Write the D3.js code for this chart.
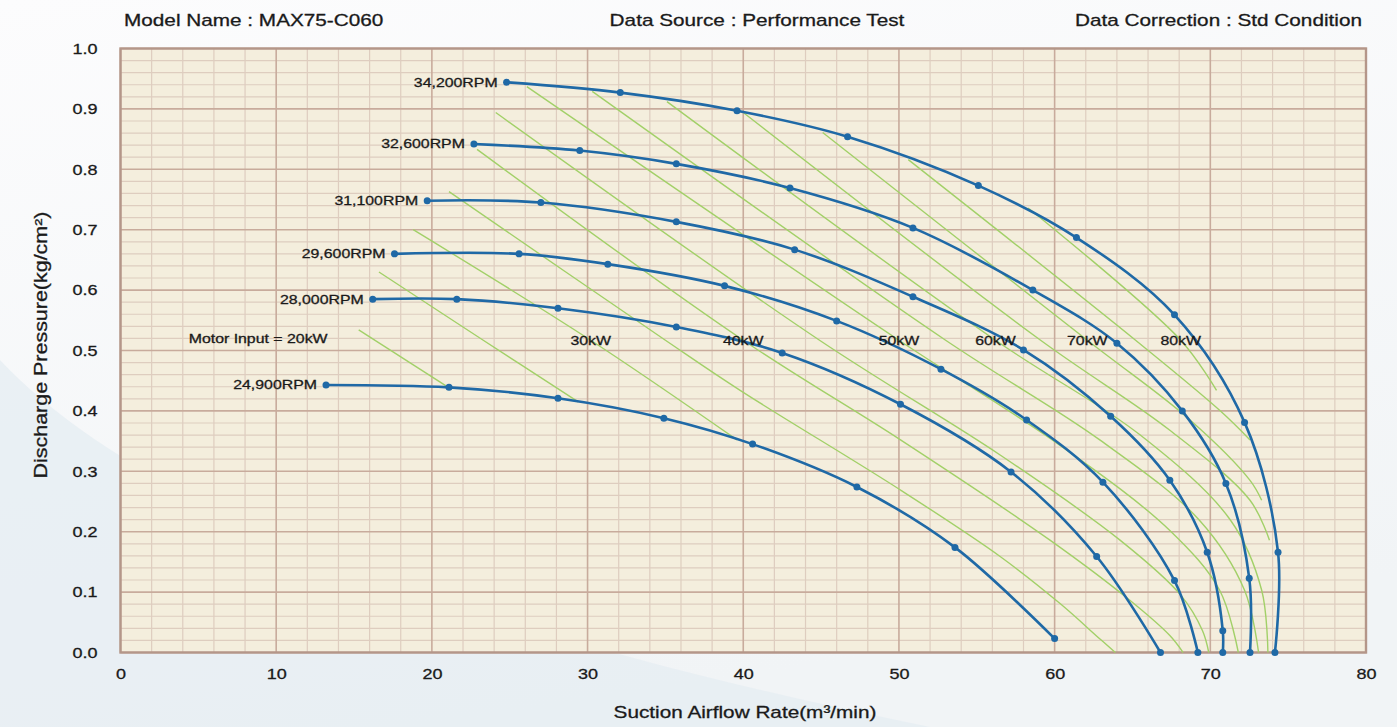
<!DOCTYPE html>
<html>
<head>
<meta charset="utf-8">
<script src="https://cdn.jsdelivr.net/npm/d3@7"></script>
<style>
    html, body { margin: 0; padding: 0; background: #f8f9fa; }
    svg { display: block; }
    text { font-family: "Liberation Sans", Arial, sans-serif; fill: #1a1a1a; stroke: #1a1a1a; stroke-width: 0.3px; }
</style>
</head>
<body>
<svg id="chart" width="1397" height="727"></svg>
<script>
// header texts
const headerTexts = ["Model Name : MAX75-C060", "Data Source : Performance Test", "Data Correction : Std Condition"];
const xTitle = "Suction Airflow Rate(m³/min)";
const yTitle = "Discharge Pressure(kg/cm²)";

// axis ticks
const xTicks = [0, 10, 20, 30, 40, 50, 60, 70, 80];
const yTicks = [0, 0.1, 0.2, 0.3, 0.4, 0.5, 0.6, 0.7, 0.8, 0.9, 1.0];

// fan curves (flow m3/min, pressure kg/cm2), lowest speed first
const rpmLabels = ["24,900RPM", "28,000RPM", "29,600RPM", "31,100RPM", "32,600RPM", "34,200RPM"];
const flow24900 = [13.2, 21.1, 28.1, 34.9, 40.6, 47.3, 53.6, 60.0];
const press24900 = [0.443, 0.439, 0.421, 0.388, 0.345, 0.274, 0.174, 0.023];
const flow28000 = [16.2, 21.6, 28.1, 35.7, 42.5, 50.1, 57.2, 62.7, 66.8];
const press28000 = [0.585, 0.585, 0.570, 0.539, 0.496, 0.411, 0.299, 0.159, 0.0];
const flow29600 = [17.6, 25.6, 31.3, 38.8, 46.0, 52.7, 58.2, 63.1, 67.7, 69.2];
const press29600 = [0.660, 0.660, 0.643, 0.607, 0.549, 0.469, 0.385, 0.282, 0.119, 0.0];
const flow31100 = [19.7, 27.0, 35.7, 43.3, 50.9, 58.0, 63.6, 67.4, 69.8, 70.8, 70.8];
const press31100 = [0.748, 0.745, 0.713, 0.667, 0.589, 0.501, 0.391, 0.285, 0.166, 0.036, 0.0];
const flow32600 = [22.7, 29.5, 35.7, 43.0, 50.9, 58.6, 64.0, 68.2, 71.0, 72.5, 72.55];
const press32600 = [0.842, 0.831, 0.809, 0.769, 0.703, 0.600, 0.512, 0.400, 0.280, 0.123, 0.0];
const flow34200 = [24.8, 32.1, 39.6, 46.7, 55.1, 61.4, 67.7, 72.2, 74.35, 74.15];
const press34200 = [0.944, 0.927, 0.897, 0.854, 0.773, 0.687, 0.559, 0.381, 0.166, 0.0];

const curveFlows = [flow24900, flow28000, flow29600, flow31100, flow32600, flow34200];
const curvePress = [press24900, press28000, press29600, press31100, press32600, press34200];

// motor input lines (kW)
const powerLevels = [20, 25, 30, 35, 40, 45, 50, 55, 60, 65, 70, 75, 80];
const powerFlows = [
    [15.3, 21.06],
    [16.6, 23.3, 29.4],
    [18.8, 30.2, 39.6],
    [21.1, 35.0, 39.8, 50.1, 56.5, 60.35, 62.8, 63.9],
    [22.9, 40.0, 50.1, 59.7, 64.85, 67.4, 68.25],
    [24.1, 44.9, 56.5, 64.2, 68.1, 69.5, 69.9],
    [26.1, 50.0, 60.35, 67.4, 70.6, 71.8],
    [30.3, 53.0, 62.9, 69.3, 72.2, 73.1],
    [35.1, 56.2, 65.5, 71.3, 73.3, 73.7],
    [40.0, 59.1, 67.4, 72.55, 73.8],
    [45.1, 62.1, 68.7, 72.55, 73.3],
    [50.6, 65.2, 70.6, 72.55],
    [58.3, 68.1, 70.4]
];
const powerPress = [
    [0.534, 0.439],
    [0.630, 0.517, 0.415],
    [0.700, 0.517, 0.352],
    [0.763, 0.517, 0.434, 0.269, 0.159, 0.081, 0.025, 0.0],
    [0.833, 0.517, 0.352, 0.186, 0.086, 0.028, 0.0],
    [0.894, 0.517, 0.327, 0.186, 0.095, 0.036, 0.0],
    [0.937, 0.517, 0.343, 0.202, 0.103, 0.0],
    [0.929, 0.517, 0.352, 0.219, 0.103, 0.0],
    [0.912, 0.517, 0.360, 0.219, 0.103, 0.0],
    [0.894, 0.517, 0.368, 0.252, 0.186],
    [0.861, 0.517, 0.385, 0.285, 0.252],
    [0.816, 0.517, 0.401, 0.352],
    [0.736, 0.517, 0.434]
];
const powerLabels = ["Motor Input = 20kW", "30kW", "40kW", "50kW", "60kW", "70kW", "80kW"];
const powerLabelFlow = [13.3, 30.2, 40.0, 50.0, 56.2, 62.1, 68.1];
const powerLabelPress = [0.52, 0.517, 0.517, 0.517, 0.517, 0.517, 0.517];

const svg = d3.select("#chart");
const W = 1397, H = 727;

const x = d3.scaleLinear().domain([0, 80]).range([120.5, 1366]);
const y = d3.scaleLinear().domain([0, 1]).range([652.5, 48.5]);

// the source picture is a bit wider than normal type, so stretch text
const stretch = (sel, k) => {
    sel.each(function () {
        const w = this.getComputedTextLength();
        d3.select(this).attr("textLength", w * k).attr("lengthAdjust", "spacingAndGlyphs");
    });
};

// page background with a soft swoosh bottom-left
const defs = svg.append("defs");
const bg = defs.append("linearGradient").attr("id", "bg").attr("x1", 0).attr("y1", 0).attr("x2", 0.3).attr("y2", 1);
bg.append("stop").attr("offset", "0%").attr("stop-color", "#fcfcfd");
bg.append("stop").attr("offset", "100%").attr("stop-color", "#f1f4f6");
svg.append("rect").attr("width", W).attr("height", H).attr("fill", "url(#bg)");
svg.append("path")
    .attr("d", "M0,360 C150,520 500,640 930,727 L0,727 Z")
    .attr("fill", "#e6edf2").attr("opacity", 0.8);

// plot area
svg.append("rect")
    .attr("x", x(0)).attr("y", y(1))
    .attr("width", x(80) - x(0)).attr("height", y(0) - y(1))
    .attr("fill", "#f4eedd");

const grid = svg.append("g");
const xGrid = d3.range(0, 81, 2);
const yGrid = d3.range(0, 51, 1).map(d => d / 50);

grid.selectAll(".vminor")
    .data(xGrid.filter(d => d % 10 != 0))
    .enter().append("line")
    .attr("x1", d => x(d)).attr("x2", d => x(d))
    .attr("y1", y(1)).attr("y2", y(0))
    .style("stroke", "#decdbf").style("stroke-width", 1.2);
grid.selectAll(".hminor")
    .data(yGrid.filter((d, i) => i % 5 != 0))
    .enter().append("line")
    .attr("x1", x(0)).attr("x2", x(80))
    .attr("y1", d => y(d)).attr("y2", d => y(d))
    .style("stroke", "#decdbf").style("stroke-width", 1.2);
grid.selectAll(".vmajor")
    .data(xTicks)
    .enter().append("line")
    .attr("x1", d => x(d)).attr("x2", d => x(d))
    .attr("y1", y(1)).attr("y2", y(0))
    .style("stroke", "#c8ab9c").style("stroke-width", 1.6);
grid.selectAll(".hmajor")
    .data(yTicks)
    .enter().append("line")
    .attr("x1", x(0)).attr("x2", x(80))
    .attr("y1", d => y(d)).attr("y2", d => y(d))
    .style("stroke", "#c8ab9c").style("stroke-width", 1.6);

svg.append("rect")
    .attr("x", x(0)).attr("y", y(1))
    .attr("width", x(80) - x(0)).attr("height", y(0) - y(1))
    .attr("fill", "none").style("stroke", "#b49689").style("stroke-width", 2.4);

// axes, labels only
const xAxis = svg.append("g")
    .attr("transform", `translate(0,${y(0)})`)
    .call(d3.axisBottom(x).tickValues(xTicks).tickSize(0).tickPadding(16).tickFormat(d3.format("d")));
const yAxis = svg.append("g")
    .attr("transform", `translate(${x(0)},0)`)
    .call(d3.axisLeft(y).tickValues(yTicks).tickSize(0).tickPadding(23).tickFormat(d3.format(".1f")));
[xAxis, yAxis].forEach(a => {
    a.select(".domain").remove();
    a.selectAll("text")
        .style("font-size", "15px")
        .style("font-family", "Liberation Sans, Arial, sans-serif")
        .attr("fill", "#1a1a1a").attr("stroke", "#1a1a1a").attr("stroke-width", 0.3);
    stretch(a.selectAll("text"), 1.2);
});

// motor input lines
const line = d3.line().x(d => x(d[0])).y(d => y(d[1])).curve(d3.curveCatmullRom.alpha(0.5));
const powerData = powerLevels.map((p, i) => powerFlows[i].map((f, j) => [f, powerPress[i][j]]));
svg.append("g").selectAll("path")
    .data(powerData)
    .enter().append("path")
    .attr("d", d => line(d))
    .attr("fill", "none")
    .style("stroke", "#a2d068").style("stroke-width", 1.4);

// fan curves
const curveData = curveFlows.map((fl, i) => fl.map((f, j) => [f, curvePress[i][j]]));
const curves = svg.append("g").selectAll("g")
    .data(curveData)
    .enter().append("g");
curves.append("path")
    .attr("d", d => line(d))
    .attr("fill", "none")
    .style("stroke", "#1f69a6").style("stroke-width", 2.6);
curves.selectAll("circle")
    .data(d => d)
    .enter().append("circle")
    .attr("cx", d => x(d[0])).attr("cy", d => y(d[1]))
    .attr("r", 3.5)
    .style("fill", "#1f69a6");

// rpm labels next to the first point of each curve
const rpmText = svg.append("g").selectAll("text")
    .data(curveData)
    .enter().append("text")
    .attr("x", d => x(d[0][0]) - 9)
    .attr("y", d => y(d[0][1]) + 4.5)
    .attr("text-anchor", "end")
    .style("font-size", "13px")
    .text((d, i) => rpmLabels[i]);
stretch(rpmText, 1.22);

const kwText = svg.append("g").selectAll("text")
    .data(powerLabels)
    .enter().append("text")
    .attr("x", (d, i) => x(powerLabelFlow[i]))
    .attr("y", (d, i) => y(powerLabelPress[i]) + 4.5)
    .attr("text-anchor", (d, i) => i == 0 ? "end" : "middle")
    .style("font-size", "13px")
    .text(d => d);
stretch(kwText, 1.22);

// header
const head = svg.append("g").selectAll("text")
    .data(headerTexts)
    .enter().append("text")
    .attr("x", (d, i) => [124, 757, 1362][i])
    .attr("y", 26)
    .attr("text-anchor", (d, i) => ["start", "middle", "end"][i])
    .style("font-size", "17px")
    .text(d => d);
stretch(head, 1.22);

const xt = svg.append("text")
    .attr("x", 745).attr("y", 718)
    .attr("text-anchor", "middle")
    .style("font-size", "17px")
    .text(xTitle);
stretch(xt, 1.22);

svg.append("text")
    .attr("transform", "translate(47,345) rotate(-90)")
    .attr("text-anchor", "middle")
    .style("font-size", "18px")
    .attr("textLength", 267).attr("lengthAdjust", "spacingAndGlyphs")
    .text(yTitle);
</script>
</body>
</html>
